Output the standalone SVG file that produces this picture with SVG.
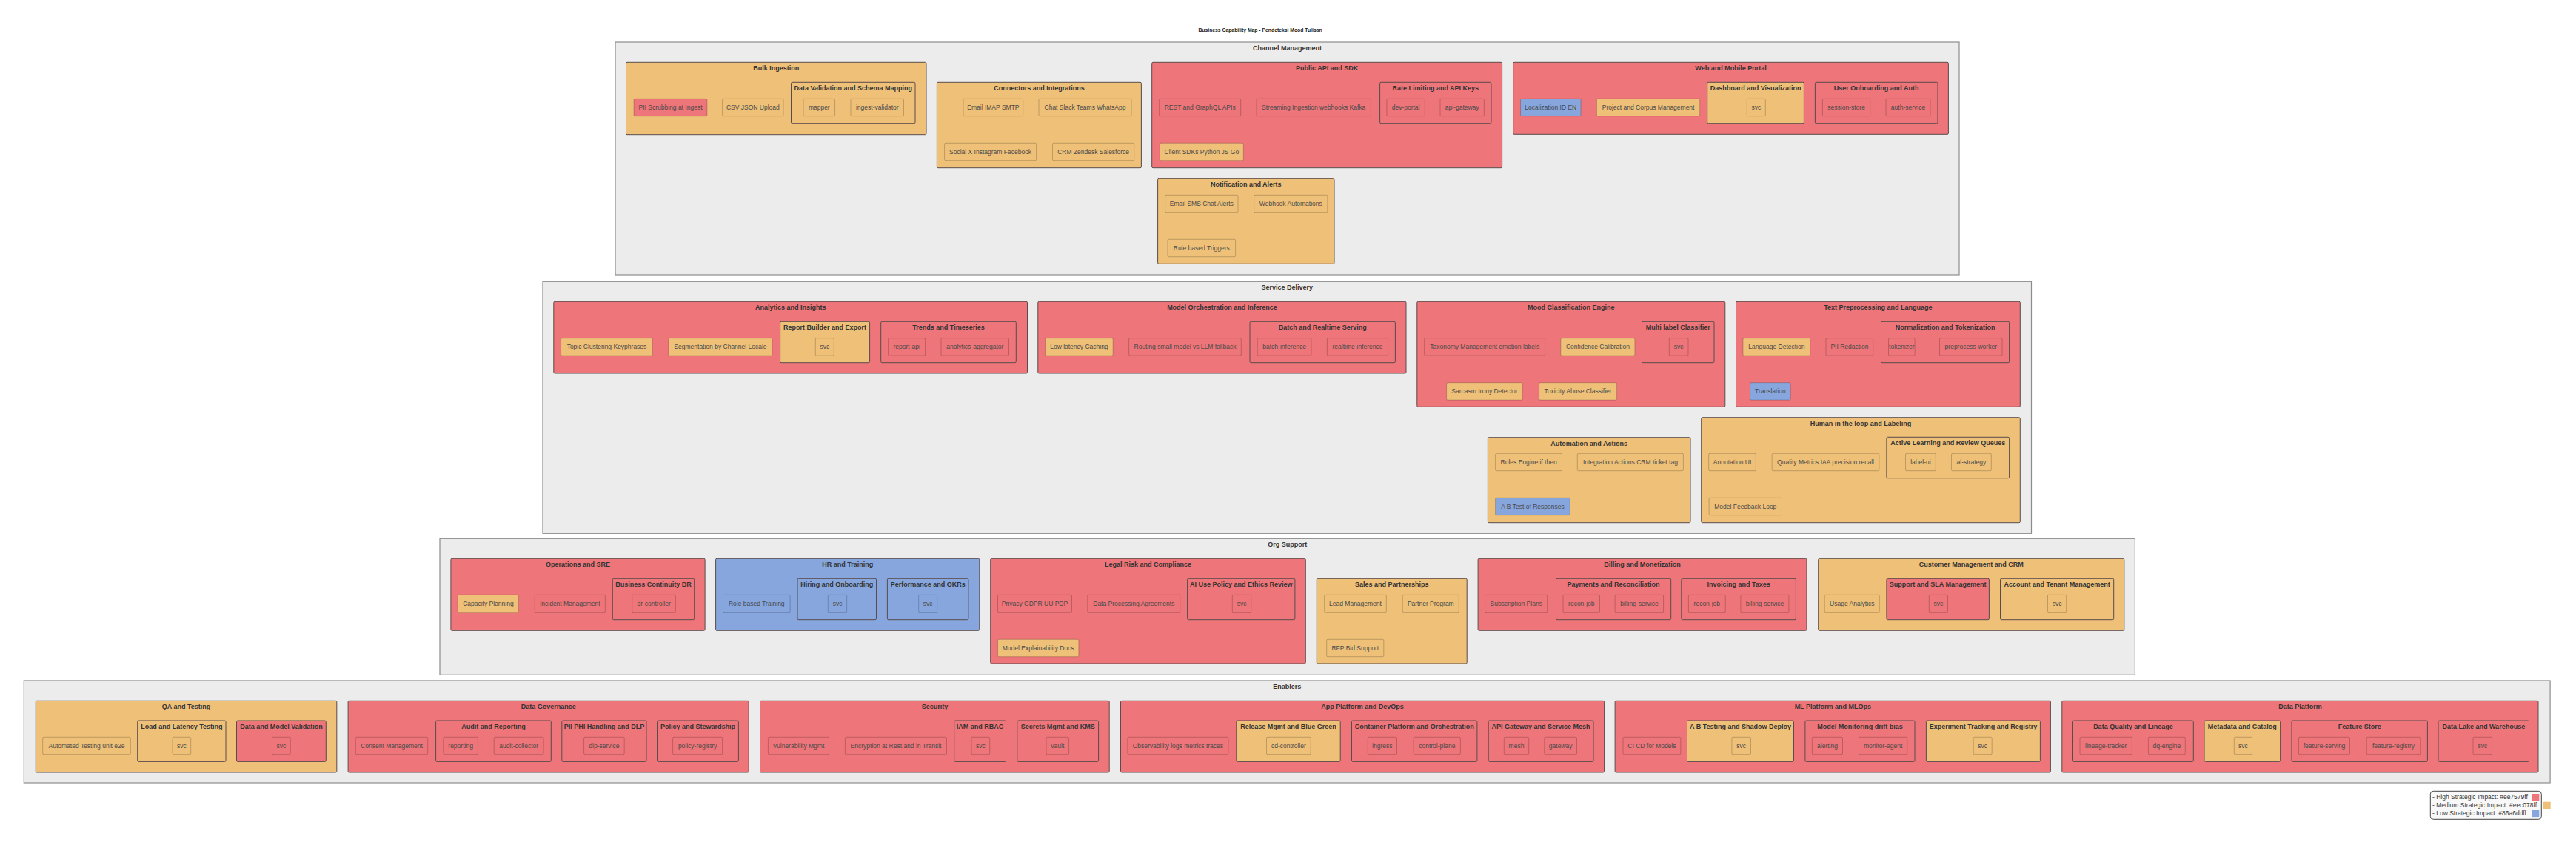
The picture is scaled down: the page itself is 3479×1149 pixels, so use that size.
<svg xmlns="http://www.w3.org/2000/svg" width="3479" height="1149" viewBox="0 0 3479 1149">
<style>
.sec{fill:#ececec;stroke:#8c8c8c;stroke-width:1.2}
.c{stroke:#5a4c4c;stroke-width:1}
.l{stroke:#000;stroke-opacity:.2;stroke-width:1}
.r{fill:#ee7579}.o{fill:#eec078}.b{fill:#86a6dd}
text{font-family:"Liberation Sans",Arial,sans-serif;text-anchor:middle;dominant-baseline:central}
.h{font-size:9px;font-weight:bold;fill:#333}
.ttl{font-size:6.8px;font-weight:bold;fill:#222}
.t{font-size:8.5px;fill:#4a4a4a}
.lg{font-size:8.5px;fill:#333;text-anchor:start}
</style>
<rect width="3479" height="1149" fill="#fff"/>
<text class="ttl" x="1702" y="40">Business Capability Map - Pendeteksi Mood Tulisan</text>
<g id="connectors"/>

<!-- CHANNEL MANAGEMENT -->
<g id="channel-management">
<rect class="sec" x="831" y="57" width="1815" height="314"/>
<text class="h" x="1738.5" y="65">Channel Management</text>

<g id="bulk-ingestion">
<rect class="c o" x="845.5" y="84.3" width="405.5" height="97.4" rx="1.5"/>
<text class="h" x="1048.3" y="92.3">Bulk Ingestion</text>
<g id="pii-scrubbing"><rect class="l r" x="856" y="133.3" width="99" height="23.4" rx="1.5"/><text class="t" x="905.5" y="145">PII Scrubbing at Ingest</text></g>
<g id="csv-json-upload"><rect class="l o" x="975.6" y="133.3" width="82.4" height="23.4" rx="1.5"/><text class="t" x="1016.8" y="145">CSV JSON Upload</text></g>
<g id="data-validation">
<rect class="c o" x="1068.5" y="111.3" width="167.5" height="55.4" rx="1.5"/>
<text class="h" x="1152.3" y="119.3">Data Validation and Schema Mapping</text>
<g id="mapper"><rect class="l o" x="1085" y="133.3" width="42.6" height="23.4" rx="1.5"/><text class="t" x="1106.3" y="145">mapper</text></g>
<g id="ingest-validator"><rect class="l o" x="1149" y="133.3" width="71.5" height="23.4" rx="1.5"/><text class="t" x="1184.8" y="145">ingest-validator</text></g>
</g>
</g>

<g id="connectors-integrations">
<rect class="c o" x="1265.4" y="111.3" width="276" height="115.4" rx="1.5"/>
<text class="h" x="1403.4" y="119.3">Connectors and Integrations</text>
<g id="email-imap"><rect class="l o" x="1301" y="133.3" width="80.7" height="23.4" rx="1.5"/><text class="t" x="1341.4" y="145">Email IMAP SMTP</text></g>
<g id="chat-slack"><rect class="l o" x="1403" y="133.3" width="125" height="23.4" rx="1.5"/><text class="t" x="1465.5" y="145">Chat Slack Teams WhatsApp</text></g>
<g id="social-x"><rect class="l o" x="1275.6" y="193.3" width="124" height="23.4" rx="1.5"/><text class="t" x="1337.6" y="205">Social X Instagram Facebook</text></g>
<g id="crm-zendesk"><rect class="l o" x="1421.5" y="193.3" width="110.2" height="23.4" rx="1.5"/><text class="t" x="1476.6" y="205">CRM Zendesk Salesforce</text></g>
</g>

<g id="public-api">
<rect class="c r" x="1555.7" y="84.3" width="472.9" height="142.4" rx="1.5"/>
<text class="h" x="1792.2" y="92.3">Public API and SDK</text>
<g id="rest-graphql"><rect class="l r" x="1565.7" y="133.3" width="110" height="23.4" rx="1.5"/><text class="t" x="1620.7" y="145">REST and GraphQL APIs</text></g>
<g id="streaming-ingestion"><rect class="l r" x="1697" y="133.3" width="154.4" height="23.4" rx="1.5"/><text class="t" x="1774.2" y="145">Streaming Ingestion webhooks Kafka</text></g>
<g id="rate-limiting">
<rect class="c r" x="1863.6" y="111.3" width="150.4" height="55.4" rx="1.5"/>
<text class="h" x="1938.8" y="119.3">Rate Limiting and API Keys</text>
<g id="dev-portal"><rect class="l r" x="1872.9" y="133.3" width="51.4" height="23.4" rx="1.5"/><text class="t" x="1898.6" y="145">dev-portal</text></g>
<g id="api-gateway"><rect class="l r" x="1945" y="133.3" width="59.3" height="23.4" rx="1.5"/><text class="t" x="1974.7" y="145">api-gateway</text></g>
</g>
<g id="client-sdks"><rect class="l o" x="1566.4" y="193.3" width="112.9" height="23.4" rx="1.5"/><text class="t" x="1622.9" y="205">Client SDKs Python JS Go</text></g>
</g>

<g id="notification-alerts">
<rect class="c o" x="1563.6" y="241.3" width="238.4" height="115" rx="1.5"/>
<text class="h" x="1682.8" y="249.3">Notification and Alerts</text>
<g id="email-sms"><rect class="l o" x="1573.6" y="263.3" width="98.4" height="23.4" rx="1.5"/><text class="t" x="1622.8" y="275">Email SMS Chat Alerts</text></g>
<g id="webhook-automations"><rect class="l o" x="1693.6" y="263.3" width="99.3" height="23.4" rx="1.5"/><text class="t" x="1743.3" y="275">Webhook Automations</text></g>
<g id="rule-triggers"><rect class="l o" x="1577" y="323.3" width="91.6" height="23.4" rx="1.5"/><text class="t" x="1622.8" y="335">Rule based Triggers</text></g>
</g>

<g id="web-mobile-portal">
<rect class="c r" x="2043.6" y="84.3" width="587.8" height="97" rx="1.5"/>
<text class="h" x="2337.5" y="92.3">Web and Mobile Portal</text>
<g id="localization"><rect class="l b" x="2053.6" y="133.3" width="81.4" height="23.4" rx="1.5"/><text class="t" x="2094.3" y="145">Localization ID EN</text></g>
<g id="project-corpus"><rect class="l o" x="2156.4" y="133.3" width="139.3" height="23.4" rx="1.5"/><text class="t" x="2226.1" y="145">Project and Corpus Management</text></g>
<g id="dashboard">
<rect class="c o" x="2305.7" y="111.3" width="130.7" height="55.4" rx="1.5"/>
<text class="h" x="2371.1" y="119.3">Dashboard and Visualization</text>
<g id="dashboard-svc"><rect class="l o" x="2359.3" y="133.3" width="25" height="23.4" rx="1.5"/><text class="t" x="2371.8" y="145">svc</text></g>
</g>
<g id="user-onboarding">
<rect class="c r" x="2451.4" y="111.3" width="165.6" height="55.4" rx="1.5"/>
<text class="h" x="2534.2" y="119.3">User Onboarding and Auth</text>
<g id="session-store"><rect class="l r" x="2461.4" y="133.3" width="64.3" height="23.4" rx="1.5"/><text class="t" x="2493.6" y="145">session-store</text></g>
<g id="auth-service"><rect class="l r" x="2547" y="133.3" width="60" height="23.4" rx="1.5"/><text class="t" x="2577" y="145">auth-service</text></g>
</g>
</g>
</g>

<!-- SERVICE DELIVERY -->
<g id="service-delivery">
<rect class="sec" x="733" y="380.3" width="2010.5" height="340"/>
<text class="h" x="1738.3" y="388.3">Service Delivery</text>

<g id="analytics-insights">
<rect class="c r" x="747.8" y="407.3" width="639.7" height="96.7" rx="1.5"/>
<text class="h" x="1067.7" y="415.3">Analytics and Insights</text>
<g id="topic-clustering"><rect class="l o" x="757.6" y="456.7" width="123.7" height="23.4" rx="1.5"/><text class="t" x="819.5" y="468.4">Topic Clustering Keyphrases</text></g>
<g id="segmentation"><rect class="l o" x="903" y="456.7" width="139.9" height="23.4" rx="1.5"/><text class="t" x="973" y="468.4">Segmentation by Channel Locale</text></g>
<g id="report-builder">
<rect class="c o" x="1053.6" y="434.3" width="121" height="55.4" rx="1.5"/>
<text class="h" x="1114.1" y="442.3">Report Builder and Export</text>
<g id="report-builder-svc"><rect class="l o" x="1101.3" y="456.7" width="25" height="23.4" rx="1.5"/><text class="t" x="1113.8" y="468.4">svc</text></g>
</g>
<g id="trends-timeseries">
<rect class="c r" x="1189.7" y="434.3" width="182.6" height="55.4" rx="1.5"/>
<text class="h" x="1281" y="442.3">Trends and Timeseries</text>
<g id="report-api"><rect class="l r" x="1199.6" y="456.7" width="50" height="23.4" rx="1.5"/><text class="t" x="1224.6" y="468.4">report-api</text></g>
<g id="analytics-aggregator"><rect class="l r" x="1271" y="456.7" width="91.5" height="23.4" rx="1.5"/><text class="t" x="1316.8" y="468.4">analytics-aggregator</text></g>
</g>
</g>

<g id="model-orchestration">
<rect class="c r" x="1401.8" y="407.3" width="497.2" height="96.7" rx="1.5"/>
<text class="h" x="1650.4" y="415.3">Model Orchestration and Inference</text>
<g id="low-latency-caching"><rect class="l o" x="1411.6" y="456.7" width="91.5" height="23.4" rx="1.5"/><text class="t" x="1457.4" y="468.4">Low latency Caching</text></g>
<g id="routing"><rect class="l r" x="1524.6" y="456.7" width="151.7" height="23.4" rx="1.5"/><text class="t" x="1600.5" y="468.4">Routing small model vs LLM fallback</text></g>
<g id="batch-realtime">
<rect class="c r" x="1688" y="434.3" width="196.4" height="55.4" rx="1.5"/>
<text class="h" x="1786.2" y="442.3">Batch and Realtime Serving</text>
<g id="batch-inference"><rect class="l r" x="1698.2" y="456.7" width="72.8" height="23.4" rx="1.5"/><text class="t" x="1734.6" y="468.4">batch-inference</text></g>
<g id="realtime-inference"><rect class="l r" x="1792.4" y="456.7" width="82.2" height="23.4" rx="1.5"/><text class="t" x="1833.5" y="468.4">realtime-inference</text></g>
</g>
</g>

<g id="mood-classification">
<rect class="c r" x="1913.8" y="407.3" width="416" height="142" rx="1.5"/>
<text class="h" x="2121.8" y="415.3">Mood Classification Engine</text>
<g id="taxonomy"><rect class="l r" x="1923.7" y="456.7" width="162.9" height="23.4" rx="1.5"/><text class="t" x="2005.2" y="468.4">Taxonomy Management emotion labels</text></g>
<g id="confidence-calibration"><rect class="l o" x="2107.8" y="456.7" width="100.1" height="23.4" rx="1.5"/><text class="t" x="2157.9" y="468.4">Confidence Calibration</text></g>
<g id="multi-label">
<rect class="c r" x="2217.5" y="434.3" width="97.5" height="55.4" rx="1.5"/>
<text class="h" x="2266.3" y="442.3">Multi label Classifier</text>
<g id="multi-label-svc"><rect class="l r" x="2254.3" y="456.7" width="25.7" height="23.4" rx="1.5"/><text class="t" x="2267.2" y="468.4">svc</text></g>
</g>
<g id="sarcasm"><rect class="l o" x="1953.6" y="516.7" width="102.7" height="23.4" rx="1.5"/><text class="t" x="2005" y="528.4">Sarcasm Irony Detector</text></g>
<g id="toxicity"><rect class="l o" x="2078.6" y="516.7" width="105" height="23.4" rx="1.5"/><text class="t" x="2131.1" y="528.4">Toxicity Abuse Classifier</text></g>
</g>

<g id="text-preprocessing">
<rect class="c r" x="2344.5" y="407.3" width="383.8" height="142" rx="1.5"/>
<text class="h" x="2536.4" y="415.3">Text Preprocessing and Language</text>
<g id="language-detection"><rect class="l o" x="2354" y="456.7" width="90.7" height="23.4" rx="1.5"/><text class="t" x="2399.4" y="468.4">Language Detection</text></g>
<g id="pii-redaction"><rect class="l r" x="2466" y="456.7" width="63.7" height="23.4" rx="1.5"/><text class="t" x="2497.9" y="468.4">PII Redaction</text></g>
<g id="normalization">
<rect class="c r" x="2540.5" y="434.3" width="173.1" height="55.4" rx="1.5"/>
<text class="h" x="2627.1" y="442.3">Normalization and Tokenization</text>
<g id="tokenizer"><rect class="l r" x="2550.5" y="456.7" width="35.6" height="23.4" rx="1.5"/><text class="t" x="2568.3" y="468.4">tokenizer</text></g>
<g id="preprocess-worker"><rect class="l r" x="2619.5" y="456.7" width="84.5" height="23.4" rx="1.5"/><text class="t" x="2661.8" y="468.4">preprocess-worker</text></g>
</g>
<g id="translation"><rect class="l b" x="2363.6" y="516.7" width="54.6" height="23.4" rx="1.5"/><text class="t" x="2390.9" y="528.4">Translation</text></g>
</g>

<g id="automation-actions">
<rect class="c o" x="2009.4" y="590.7" width="273.6" height="115" rx="1.5"/>
<text class="h" x="2146.2" y="598.7">Automation and Actions</text>
<g id="rules-engine"><rect class="l o" x="2019.6" y="612.3" width="89.9" height="23.4" rx="1.5"/><text class="t" x="2064.6" y="624">Rules Engine if then</text></g>
<g id="integration-actions"><rect class="l o" x="2130.3" y="612.3" width="143.1" height="23.4" rx="1.5"/><text class="t" x="2201.9" y="624">Integration Actions CRM ticket tag</text></g>
<g id="ab-test-responses"><rect class="l b" x="2019.6" y="672.3" width="100.7" height="23.4" rx="1.5"/><text class="t" x="2070" y="684">A B Test of Responses</text></g>
</g>

<g id="human-in-loop">
<rect class="c o" x="2297.7" y="563.7" width="430.6" height="142" rx="1.5"/>
<text class="h" x="2513" y="571.7">Human in the loop and Labeling</text>
<g id="annotation-ui"><rect class="l o" x="2307.7" y="612.3" width="63.7" height="23.4" rx="1.5"/><text class="t" x="2339.6" y="624">Annotation UI</text></g>
<g id="quality-metrics"><rect class="l o" x="2393.1" y="612.3" width="144.8" height="23.4" rx="1.5"/><text class="t" x="2465.5" y="624">Quality Metrics IAA precision recall</text></g>
<g id="active-learning">
<rect class="c o" x="2547.9" y="590.3" width="165.7" height="55.4" rx="1.5"/>
<text class="h" x="2630.8" y="598.3">Active Learning and Review Queues</text>
<g id="label-ui"><rect class="l o" x="2573.5" y="612.3" width="40.8" height="23.4" rx="1.5"/><text class="t" x="2593.9" y="624">label-ui</text></g>
<g id="al-strategy"><rect class="l o" x="2635.5" y="612.3" width="53.8" height="23.4" rx="1.5"/><text class="t" x="2662.4" y="624">al-strategy</text></g>
</g>
<g id="model-feedback"><rect class="l o" x="2308.1" y="672.3" width="98.4" height="23.4" rx="1.5"/><text class="t" x="2357.3" y="684">Model Feedback Loop</text></g>
</g>
</g>

<!-- ORG SUPPORT -->
<g id="org-support">
<rect class="sec" x="594" y="727.3" width="2289.4" height="184"/>
<text class="h" x="1738.7" y="735.3">Org Support</text>

<g id="operations-sre">
<rect class="c r" x="608.9" y="754.3" width="343.2" height="97" rx="1.5"/>
<text class="h" x="780.5" y="762.3">Operations and SRE</text>
<g id="capacity-planning"><rect class="l o" x="618.3" y="803.3" width="82.1" height="23.4" rx="1.5"/><text class="t" x="659.4" y="815">Capacity Planning</text></g>
<g id="incident-management"><rect class="l r" x="722.3" y="803.3" width="95" height="23.4" rx="1.5"/><text class="t" x="769.8" y="815">Incident Management</text></g>
<g id="business-continuity">
<rect class="c r" x="827.3" y="781.3" width="110.4" height="55.4" rx="1.5"/>
<text class="h" x="882.5" y="789.3">Business Continuity DR</text>
<g id="dr-controller"><rect class="l r" x="853.7" y="803.3" width="58.7" height="23.4" rx="1.5"/><text class="t" x="883.1" y="815">dr-controller</text></g>
</g>
</g>

<g id="hr-training">
<rect class="c b" x="966.6" y="754.3" width="356.2" height="97" rx="1.5"/>
<text class="h" x="1144.7" y="762.3">HR and Training</text>
<g id="role-training"><rect class="l b" x="976.5" y="803.3" width="90.6" height="23.4" rx="1.5"/><text class="t" x="1021.8" y="815">Role based Training</text></g>
<g id="hiring-onboarding">
<rect class="c b" x="1077" y="781.3" width="106.5" height="55.4" rx="1.5"/>
<text class="h" x="1130.3" y="789.3">Hiring and Onboarding</text>
<g id="hiring-svc"><rect class="l b" x="1118.3" y="803.3" width="25.4" height="23.4" rx="1.5"/><text class="t" x="1131" y="815">svc</text></g>
</g>
<g id="performance-okrs">
<rect class="c b" x="1198.4" y="781.3" width="109.5" height="55.4" rx="1.5"/>
<text class="h" x="1253.2" y="789.3">Performance and OKRs</text>
<g id="performance-svc"><rect class="l b" x="1240.7" y="803.3" width="25" height="23.4" rx="1.5"/><text class="t" x="1253.2" y="815">svc</text></g>
</g>
</g>

<g id="legal-risk">
<rect class="c r" x="1337.7" y="754.3" width="425.6" height="141.7" rx="1.5"/>
<text class="h" x="1550.5" y="762.3">Legal Risk and Compliance</text>
<g id="privacy-gdpr"><rect class="l r" x="1347.5" y="803.3" width="100" height="23.4" rx="1.5"/><text class="t" x="1397.5" y="815">Privacy GDPR UU PDP</text></g>
<g id="dpa"><rect class="l r" x="1468.8" y="803.3" width="124.9" height="23.4" rx="1.5"/><text class="t" x="1531.3" y="815">Data Processing Agreements</text></g>
<g id="ai-use-policy">
<rect class="c r" x="1603.6" y="781.3" width="145.3" height="55.4" rx="1.5"/>
<text class="h" x="1676.3" y="789.3">AI Use Policy and Ethics Review</text>
<g id="ai-use-svc"><rect class="l r" x="1664.3" y="803.3" width="25.4" height="23.4" rx="1.5"/><text class="t" x="1677" y="815">svc</text></g>
</g>
<g id="model-explainability"><rect class="l o" x="1347.5" y="863.3" width="109.4" height="23.4" rx="1.5"/><text class="t" x="1402.2" y="875">Model Explainability Docs</text></g>
</g>

<g id="sales-partnerships">
<rect class="c o" x="1778.3" y="781.3" width="202.9" height="114.7" rx="1.5"/>
<text class="h" x="1879.8" y="789.3">Sales and Partnerships</text>
<g id="lead-management"><rect class="l o" x="1788.7" y="803.3" width="83.6" height="23.4" rx="1.5"/><text class="t" x="1830.5" y="815">Lead Management</text></g>
<g id="partner-program"><rect class="l o" x="1894.2" y="803.3" width="76.1" height="23.4" rx="1.5"/><text class="t" x="1932.3" y="815">Partner Program</text></g>
<g id="rfp-bid"><rect class="l o" x="1791.7" y="863.3" width="77.1" height="23.4" rx="1.5"/><text class="t" x="1830.3" y="875">RFP Bid Support</text></g>
</g>

<g id="billing-monetization">
<rect class="c r" x="1996.1" y="754.3" width="443.9" height="97" rx="1.5"/>
<text class="h" x="2218" y="762.3">Billing and Monetization</text>
<g id="subscription-plans"><rect class="l r" x="2005.6" y="803.3" width="84.1" height="23.4" rx="1.5"/><text class="t" x="2047.7" y="815">Subscription Plans</text></g>
<g id="payments-reconciliation">
<rect class="c r" x="2101.5" y="781.3" width="155.2" height="55.4" rx="1.5"/>
<text class="h" x="2179.1" y="789.3">Payments and Reconciliation</text>
<g id="payments-recon-job"><rect class="l r" x="2111" y="803.3" width="49.5" height="23.4" rx="1.5"/><text class="t" x="2135.8" y="815">recon-job</text></g>
<g id="payments-billing-service"><rect class="l r" x="2181.1" y="803.3" width="65.5" height="23.4" rx="1.5"/><text class="t" x="2213.9" y="815">billing-service</text></g>
</g>
<g id="invoicing-taxes">
<rect class="c r" x="2270.8" y="781.3" width="154.6" height="55.4" rx="1.5"/>
<text class="h" x="2348.1" y="789.3">Invoicing and Taxes</text>
<g id="invoicing-recon-job"><rect class="l r" x="2280.4" y="803.3" width="49.8" height="23.4" rx="1.5"/><text class="t" x="2305.3" y="815">recon-job</text></g>
<g id="invoicing-billing-service"><rect class="l r" x="2350.9" y="803.3" width="65" height="23.4" rx="1.5"/><text class="t" x="2383.4" y="815">billing-service</text></g>
</g>
</g>

<g id="customer-management">
<rect class="c o" x="2455.7" y="754.3" width="413.1" height="97" rx="1.5"/>
<text class="h" x="2662.3" y="762.3">Customer Management and CRM</text>
<g id="usage-analytics"><rect class="l o" x="2464.2" y="803.3" width="74.1" height="23.4" rx="1.5"/><text class="t" x="2501.3" y="815">Usage Analytics</text></g>
<g id="support-sla">
<rect class="c r" x="2547.9" y="781.3" width="138.5" height="55.4" rx="1.5"/>
<text class="h" x="2617.2" y="789.3">Support and SLA Management</text>
<g id="support-svc"><rect class="l r" x="2605.3" y="803.3" width="25.2" height="23.4" rx="1.5"/><text class="t" x="2617.9" y="815">svc</text></g>
</g>
<g id="account-tenant">
<rect class="c o" x="2701.5" y="781.3" width="153.2" height="55.4" rx="1.5"/>
<text class="h" x="2778.1" y="789.3">Account and Tenant Management</text>
<g id="account-svc"><rect class="l o" x="2765.5" y="803.3" width="25.2" height="23.4" rx="1.5"/><text class="t" x="2778.1" y="815">svc</text></g>
</g>
</g>
</g>

<!-- ENABLERS -->
<g id="enablers">
<rect class="sec" x="32.3" y="919" width="3411.8" height="138"/>
<text class="h" x="1738.2" y="927">Enablers</text>

<g id="qa-testing">
<rect class="c o" x="48.3" y="946.3" width="406.5" height="96.7" rx="1.5"/>
<text class="h" x="251.6" y="954.3">QA and Testing</text>
<g id="automated-testing"><rect class="l o" x="57.7" y="995.3" width="118.6" height="23.4" rx="1.5"/><text class="t" x="117" y="1007">Automated Testing unit e2e</text></g>
<g id="load-latency">
<rect class="c o" x="185.7" y="973" width="119.3" height="55.4" rx="1.5"/>
<text class="h" x="245.4" y="981">Load and Latency Testing</text>
<g id="load-svc"><rect class="l o" x="233" y="995.3" width="24.7" height="23.4" rx="1.5"/><text class="t" x="245.4" y="1007">svc</text></g>
</g>
<g id="data-model-validation">
<rect class="c r" x="319.5" y="973" width="120.8" height="55.4" rx="1.5"/>
<text class="h" x="379.9" y="981">Data and Model Validation</text>
<g id="dmv-svc"><rect class="l r" x="367.5" y="995.3" width="24.8" height="23.4" rx="1.5"/><text class="t" x="379.9" y="1007">svc</text></g>
</g>
</g>

<g id="data-governance">
<rect class="c r" x="470.1" y="946.3" width="541.1" height="96.7" rx="1.5"/>
<text class="h" x="740.7" y="954.3">Data Governance</text>
<g id="consent-management"><rect class="l r" x="480.3" y="995.3" width="97.4" height="23.4" rx="1.5"/><text class="t" x="529" y="1007">Consent Management</text></g>
<g id="audit-reporting">
<rect class="c r" x="588.6" y="973" width="155.7" height="55.4" rx="1.5"/>
<text class="h" x="666.5" y="981">Audit and Reporting</text>
<g id="reporting"><rect class="l r" x="598.8" y="995.3" width="46.6" height="23.4" rx="1.5"/><text class="t" x="622.1" y="1007">reporting</text></g>
<g id="audit-collector"><rect class="l r" x="667.2" y="995.3" width="66.9" height="23.4" rx="1.5"/><text class="t" x="700.7" y="1007">audit-collector</text></g>
</g>
<g id="pii-phi">
<rect class="c r" x="758.8" y="973" width="114.2" height="55.4" rx="1.5"/>
<text class="h" x="815.9" y="981">PII PHI Handling and DLP</text>
<g id="dlp-service"><rect class="l r" x="788.6" y="995.3" width="54.6" height="23.4" rx="1.5"/><text class="t" x="815.9" y="1007">dlp-service</text></g>
</g>
<g id="policy-stewardship">
<rect class="c r" x="887.5" y="973" width="109.9" height="55.4" rx="1.5"/>
<text class="h" x="942.5" y="981">Policy and Stewardship</text>
<g id="policy-registry"><rect class="l r" x="908.6" y="995.3" width="67" height="23.4" rx="1.5"/><text class="t" x="942.1" y="1007">policy-registry</text></g>
</g>
</g>

<g id="security">
<rect class="c r" x="1026.5" y="946.3" width="471.7" height="96.7" rx="1.5"/>
<text class="h" x="1262.4" y="954.3">Security</text>
<g id="vulnerability-mgmt"><rect class="l r" x="1037.4" y="995.3" width="82.1" height="23.4" rx="1.5"/><text class="t" x="1078.5" y="1007">Vulnerability Mgmt</text></g>
<g id="encryption"><rect class="l r" x="1141.4" y="995.3" width="137.1" height="23.4" rx="1.5"/><text class="t" x="1210" y="1007">Encryption at Rest and in Transit</text></g>
<g id="iam-rbac">
<rect class="c r" x="1288.7" y="973" width="69.8" height="55.4" rx="1.5"/>
<text class="h" x="1323.6" y="981">IAM and RBAC</text>
<g id="iam-svc"><rect class="l r" x="1312" y="995.3" width="24.7" height="23.4" rx="1.5"/><text class="t" x="1324.4" y="1007">svc</text></g>
</g>
<g id="secrets-kms">
<rect class="c r" x="1373.8" y="973" width="109.8" height="55.4" rx="1.5"/>
<text class="h" x="1428.7" y="981">Secrets Mgmt and KMS</text>
<g id="vault"><rect class="l r" x="1413" y="995.3" width="30.6" height="23.4" rx="1.5"/><text class="t" x="1428.3" y="1007">vault</text></g>
</g>
</g>

<g id="app-platform">
<rect class="c r" x="1513.5" y="946.3" width="653.1" height="96.7" rx="1.5"/>
<text class="h" x="1840.1" y="954.3">App Platform and DevOps</text>
<g id="observability"><rect class="l r" x="1522.9" y="995.3" width="136" height="23.4" rx="1.5"/><text class="t" x="1590.9" y="1007">Observability logs metrics traces</text></g>
<g id="release-mgmt">
<rect class="c o" x="1669.8" y="973" width="140.4" height="55.4" rx="1.5"/>
<text class="h" x="1740" y="981">Release Mgmt and Blue Green</text>
<g id="cd-controller"><rect class="l o" x="1710.5" y="995.3" width="59.7" height="23.4" rx="1.5"/><text class="t" x="1740.4" y="1007">cd-controller</text></g>
</g>
<g id="container-platform">
<rect class="c r" x="1825.5" y="973" width="169.4" height="55.4" rx="1.5"/>
<text class="h" x="1910.2" y="981">Container Platform and Orchestration</text>
<g id="ingress"><rect class="l r" x="1847.3" y="995.3" width="39.2" height="23.4" rx="1.5"/><text class="t" x="1866.9" y="1007">ingress</text></g>
<g id="control-plane"><rect class="l r" x="1909.1" y="995.3" width="63.3" height="23.4" rx="1.5"/><text class="t" x="1940.8" y="1007">control-plane</text></g>
</g>
<g id="api-gateway-mesh">
<rect class="c r" x="2010.2" y="973" width="141.8" height="55.4" rx="1.5"/>
<text class="h" x="2081.1" y="981">API Gateway and Service Mesh</text>
<g id="mesh"><rect class="l r" x="2031.3" y="995.3" width="33.4" height="23.4" rx="1.5"/><text class="t" x="2048" y="1007">mesh</text></g>
<g id="gateway"><rect class="l r" x="2085.8" y="995.3" width="43.7" height="23.4" rx="1.5"/><text class="t" x="2107.7" y="1007">gateway</text></g>
</g>
</g>

<g id="ml-platform">
<rect class="c r" x="2181.1" y="946.3" width="588.3" height="96.7" rx="1.5"/>
<text class="h" x="2475.3" y="954.3">ML Platform and MLOps</text>
<g id="cicd-models"><rect class="l r" x="2192" y="995.3" width="77.8" height="23.4" rx="1.5"/><text class="t" x="2230.9" y="1007">CI CD for Models</text></g>
<g id="ab-testing-shadow">
<rect class="c o" x="2278.5" y="973" width="144" height="55.4" rx="1.5"/>
<text class="h" x="2350.5" y="981">A B Testing and Shadow Deploy</text>
<g id="ab-svc"><rect class="l o" x="2338.9" y="995.3" width="25.6" height="23.4" rx="1.5"/><text class="t" x="2351.7" y="1007">svc</text></g>
</g>
<g id="model-monitoring">
<rect class="c r" x="2437.9" y="973" width="148.1" height="55.4" rx="1.5"/>
<text class="h" x="2512" y="981">Model Monitoring drift bias</text>
<g id="alerting"><rect class="l r" x="2447.4" y="995.3" width="41.1" height="23.4" rx="1.5"/><text class="t" x="2468" y="1007">alerting</text></g>
<g id="monitor-agent"><rect class="l r" x="2510.5" y="995.3" width="65.3" height="23.4" rx="1.5"/><text class="t" x="2543.2" y="1007">monitor-agent</text></g>
</g>
<g id="experiment-tracking">
<rect class="c o" x="2601.4" y="973" width="154" height="55.4" rx="1.5"/>
<text class="h" x="2678.4" y="981">Experiment Tracking and Registry</text>
<g id="experiment-svc"><rect class="l o" x="2665.2" y="995.3" width="25" height="23.4" rx="1.5"/><text class="t" x="2677.7" y="1007">svc</text></g>
</g>
</g>

<g id="data-platform">
<rect class="c r" x="2784.8" y="946.3" width="643.2" height="96.7" rx="1.5"/>
<text class="h" x="3106.4" y="954.3">Data Platform</text>
<g id="data-quality">
<rect class="c r" x="2799.5" y="973" width="162.8" height="55.4" rx="1.5"/>
<text class="h" x="2880.9" y="981">Data Quality and Lineage</text>
<g id="lineage-tracker"><rect class="l r" x="2809" y="995.3" width="70.4" height="23.4" rx="1.5"/><text class="t" x="2844.2" y="1007">lineage-tracker</text></g>
<g id="dq-engine"><rect class="l r" x="2901.4" y="995.3" width="49.9" height="23.4" rx="1.5"/><text class="t" x="2926.4" y="1007">dq-engine</text></g>
</g>
<g id="metadata-catalog">
<rect class="c o" x="2977" y="973" width="102.6" height="55.4" rx="1.5"/>
<text class="h" x="3028.3" y="981">Metadata and Catalog</text>
<g id="metadata-svc"><rect class="l o" x="3017.3" y="995.3" width="24.2" height="23.4" rx="1.5"/><text class="t" x="3029.4" y="1007">svc</text></g>
</g>
<g id="feature-store">
<rect class="c r" x="3095" y="973" width="183.4" height="55.4" rx="1.5"/>
<text class="h" x="3186.7" y="981">Feature Store</text>
<g id="feature-serving"><rect class="l r" x="3104.5" y="995.3" width="69" height="23.4" rx="1.5"/><text class="t" x="3139" y="1007">feature-serving</text></g>
<g id="feature-registry"><rect class="l r" x="3196.2" y="995.3" width="72.6" height="23.4" rx="1.5"/><text class="t" x="3232.5" y="1007">feature-registry</text></g>
</g>
<g id="data-lake">
<rect class="c r" x="3293" y="973" width="122.5" height="55.4" rx="1.5"/>
<text class="h" x="3354.3" y="981">Data Lake and Warehouse</text>
<g id="data-lake-svc"><rect class="l r" x="3340" y="995.3" width="25.6" height="23.4" rx="1.5"/><text class="t" x="3352.8" y="1007">svc</text></g>
</g>
</g>
</g>

<!-- LEGEND -->
<g id="legend">
<rect x="3282.3" y="1068.3" width="150" height="38" rx="4" fill="#f8f8f8" stroke="#444" stroke-width="1"/>
<text class="lg" x="3285" y="1076">- High Strategic Impact: #ee7579ff</text>
<text class="lg" x="3285" y="1087">- Medium Strategic Impact: #eec078ff</text>
<text class="lg" x="3285" y="1098">- Low Strategic Impact: #86a6ddff</text>
<rect class="r" x="3419.7" y="1072" width="9.6" height="9.2"/>
<rect class="o" x="3434.7" y="1082.7" width="10" height="9.3"/>
<rect class="b" x="3419.7" y="1093.3" width="9.6" height="9.8"/>
</g>
</svg>
